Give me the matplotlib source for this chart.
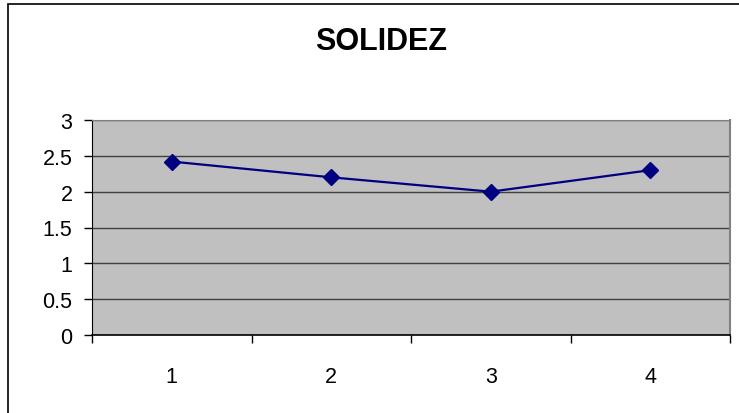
import matplotlib.pyplot as plt
from matplotlib.patches import Rectangle

plt.rcParams['font.family'] = ['Liberation Sans', 'DejaVu Sans']

# data
categories = ['1', '2', '3', '4']
values = [2.42, 2.2, 2.0, 2.3]
y_ticks = [0, 0.5, 1, 1.5, 2, 2.5, 3]
title = 'SOLIDEZ'

fig = plt.figure(figsize=(7.39, 4.14), dpi=100)
ax = fig.add_axes([92/739, 78/414, 638/739, 215/414])

# outer chart border (excel style, cut off on the right/bottom)
fig.patches.append(Rectangle((8/739, -0.1), 1.2, 1 - 5/414 + 0.1, transform=fig.transFigure,
                             fill=False, edgecolor='black', linewidth=1.2, zorder=0))

ax.set_facecolor('#C0C0C0')
x = range(len(categories))
ax.plot(x, values, color='#000080', linewidth=1.6, marker='D', markersize=8.5, zorder=3)

ax.set_xlim(-0.5, len(categories) - 0.5)
ax.set_ylim(0, 3)
ax.set_yticks(y_ticks)
ax.set_yticklabels([('%g' % v) for v in y_ticks])
ax.yaxis.grid(True, color='#404040', linewidth=1)
ax.set_axisbelow(True)

# category labels centered, ticks between categories
ax.set_xticks([i - 0.5 for i in range(len(categories) + 1)])
ax.set_xticklabels([])
ax.set_xticks(list(x), minor=True)
ax.set_xticklabels(categories, minor=True)
ax.tick_params(axis='x', which='minor', length=0, pad=22, labelsize=15.5)
ax.tick_params(axis='x', which='major', length=6, direction='out', width=1)
ax.tick_params(axis='y', length=6, direction='out', width=1, labelsize=15.5, pad=8)

ax.spines['left'].set_color('black')
ax.spines['bottom'].set_color('black')
ax.spines['bottom'].set_linewidth(1.2)
ax.spines['top'].set_color('#808080')
ax.spines['right'].set_color('#808080')
ax.spines['right'].set_linewidth(1.5)

fig.text(381/739, 1 - 42/414, title, ha='center', va='center', fontsize=22, fontweight='bold')

fig.savefig('out.png', dpi=100)
